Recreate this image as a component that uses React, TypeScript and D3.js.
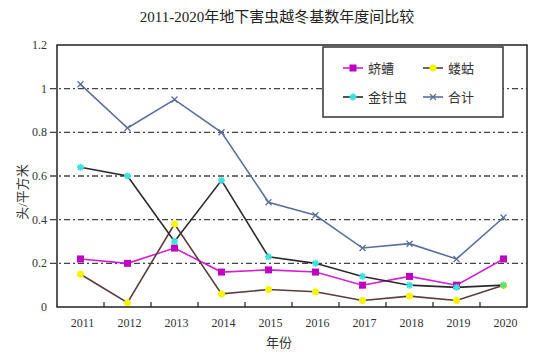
import React from "react";
import * as d3 from "d3";

const years = ["2011", "2012", "2013", "2014", "2015", "2016", "2017", "2018", "2019", "2020"];
const qicao = [0.22, 0.2, 0.27, 0.16, 0.17, 0.16, 0.1, 0.14, 0.1, 0.22];
const lougu = [0.15, 0.02, 0.38, 0.06, 0.08, 0.07, 0.03, 0.05, 0.03, 0.1];
const jinzhenchong = [0.64, 0.6, 0.3, 0.58, 0.23, 0.2, 0.14, 0.1, 0.09, 0.1];
const heji = [1.02, 0.82, 0.95, 0.8, 0.48, 0.42, 0.27, 0.29, 0.22, 0.41];
const yTicks = [0, 0.2, 0.4, 0.6, 0.8, 1, 1.2];

const W = 550, H = 352;
const L = 57, R = 527, T = 45, B = 307;
const FONT = "'Liberation Serif', 'DejaVu Serif', 'Noto Sans CJK SC', serif";

type Series = { name: string; values: number[]; line: string; marker: string; shape: string };
const series: Series[] = [
  { name: "蛴螬", values: qicao, line: "#d21fd2", marker: "#c000c0", shape: "square" },
  { name: "蝼蛄", values: lougu, line: "#5a3c3c", marker: "#f5f500", shape: "circle" },
  { name: "金针虫", values: jinzhenchong, line: "#2a2a2a", marker: "#40e0e0", shape: "star" },
  { name: "合计", values: heji, line: "#5b6e9e", marker: "#5b6e9e", shape: "x" },
];

function Marker({ s, x, y, last }: { s: Series; x: number; y: number; last?: boolean }) {
  if (s.shape === "square") return <rect x={x - 3.5} y={y - 3.5} width={7} height={7} fill={s.marker} />;
  if (s.shape === "circle") return <circle cx={x} cy={y} r={3.5} fill={s.marker} />;
  if (s.shape === "star") {
    const c = last ? "#60e080" : s.marker;
    return (
      <g stroke={c} strokeWidth={1.8}>
        <line x1={x - 3.5} y1={y} x2={x + 3.5} y2={y} />
        <line x1={x} y1={y - 3.5} x2={x} y2={y + 3.5} />
        <line x1={x - 2.5} y1={y - 2.5} x2={x + 2.5} y2={y + 2.5} />
        <line x1={x - 2.5} y1={y + 2.5} x2={x + 2.5} y2={y - 2.5} />
      </g>
    );
  }
  return (
    <g stroke={s.marker} strokeWidth={1.3}>
      <line x1={x - 3} y1={y - 3} x2={x + 3} y2={y + 3} />
      <line x1={x - 3} y1={y + 3} x2={x + 3} y2={y - 3} />
    </g>
  );
}

export default function App() {
  const x = d3.scaleBand<string>().domain(years).range([L, R]);
  const y = d3.scaleLinear().domain([0, 1.2]).range([B, T]);
  const cx = (d: string) => (x(d) as number) + x.bandwidth() / 2;
  const line = d3.line<number>().x((_, i) => cx(years[i])).y((v) => y(v));

  const legendPos = [
    { lx: 343, ly: 68 },
    { lx: 423, ly: 68 },
    { lx: 343, ly: 97 },
    { lx: 423, ly: 97 },
  ];

  return (
    <svg width={W} height={H} style={{ position: "absolute", left: 0, top: 0, background: "#fff" }} fontFamily={FONT}>
      <rect width={W} height={H} fill="#fff" />
      <text x={W / 2 + 2} y={22} textAnchor="middle" fontSize={15} fill="#222">
        2011-2020年地下害虫越冬基数年度间比较
      </text>

      {/* gridlines */}
      {yTicks.filter((t) => t > 0 && t < 1.2).map((t) => (
        <line key={t} x1={50} x2={R} y1={y(t)} y2={y(t)} stroke="#444" strokeWidth={1.3} strokeDasharray="6 3 2 3" />
      ))}
      {/* y tick labels */}
      {yTicks.map((t) => (
        <text key={t} x={47} y={y(t) + 4} textAnchor="end" fontSize={12} fill="#333">
          {t === 0 ? "0" : d3.format("~g")(t)}
        </text>
      ))}

      {/* x ticks inward */}
      {years.slice(1).map((yr) => (
        <line key={yr} x1={x(yr) as number} x2={x(yr) as number} y1={B} y2={B - 5} stroke="#333" strokeWidth={1.3} />
      ))}
      {years.map((yr) => (
        <text key={yr} x={cx(yr) + 2} y={327} textAnchor="middle" fontSize={12} fill="#333">
          {yr}
        </text>
      ))}

      {/* series */}
      {series.map((s) => (
        <g key={s.name}>
          <path d={line(s.values) as string} fill="none" stroke={s.line} strokeWidth={1.6} />
          {s.values.map((v, i) => (
            <Marker key={i} s={s} x={cx(years[i])} y={y(v)} last={i === years.length - 1} />
          ))}
        </g>
      ))}

      {/* frame */}
      <rect x={L} y={T} width={R - L} height={B - T} fill="none" stroke="#222" strokeWidth={1.5} />

      {/* legend */}
      <rect x={323} y={47} width={180} height={70} fill="#fff" stroke="#333" strokeWidth={1.5} />
      {series.map((s, i) => {
        const p = legendPos[i];
        return (
          <g key={s.name}>
            <line x1={p.lx} x2={p.lx + 20} y1={p.ly} y2={p.ly} stroke={s.line} strokeWidth={1.6} />
            <Marker s={s} x={p.lx + 10} y={p.ly} />
            <text x={p.lx + 25} y={p.ly + 5} fontSize={13} fill="#333">
              {s.name}
            </text>
          </g>
        );
      })}

      {/* axis titles */}
      <text x={279} y={347} textAnchor="middle" fontSize={13} fill="#333">年份</text>
      <text transform="translate(27,192) rotate(-90)" textAnchor="middle" fontSize={13} fill="#333">头/平方米</text>
    </svg>
  );
}
